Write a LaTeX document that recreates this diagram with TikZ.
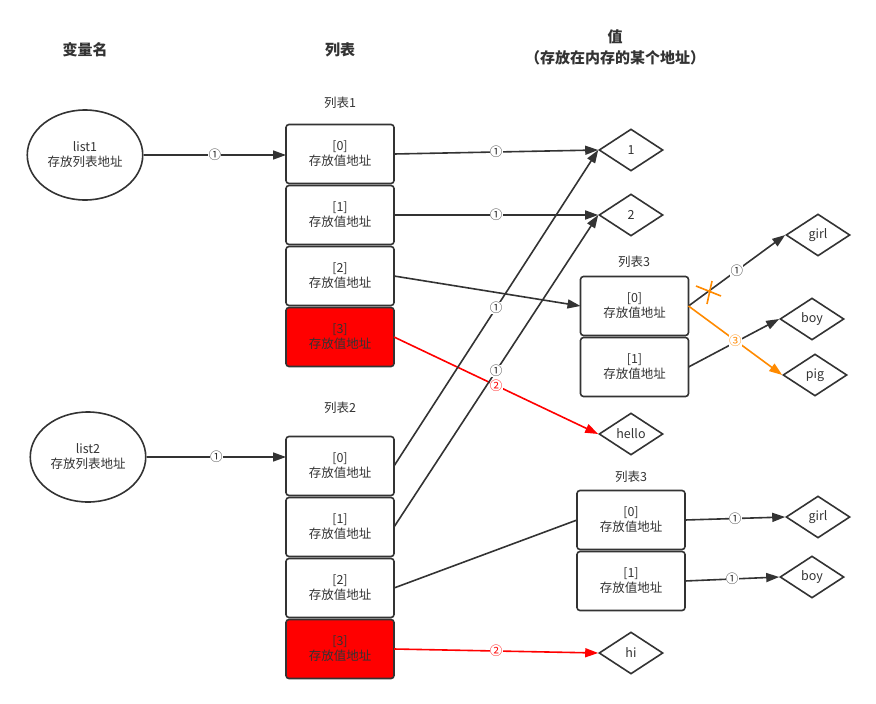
\documentclass[tikz,border=0pt]{standalone}
\usepackage{fontspec}
\setmainfont{Noto Sans CJK SC}
\usetikzlibrary{shapes.geometric,arrows.meta,positioning}
\definecolor{ink}{HTML}{333333}
\definecolor{orng}{HTML}{FF8A00}

\begin{document}
\begin{tikzpicture}[x=1pt,y=-1pt,
  every node/.style={text=ink, font=\fontsize{12.5}{15}\selectfont},
  cell/.style={draw=ink, line width=1.6pt, rounded corners=3pt, minimum width=108pt, minimum height=59pt, outer sep=0pt, align=center},
  var/.style={ellipse, draw=ink, line width=1.6pt, minimum width=108pt, minimum height=90pt, align=center},
  val/.style={diamond, draw=ink, line width=1.6pt, aspect=1.5, minimum width=64pt, minimum height=42pt, inner sep=1pt},
  head/.style={font=\fontsize{15}{21}\selectfont\bfseries, align=center},
  link/.style={draw=ink, line width=1.6pt, -{Triangle[length=13pt,width=9pt]}},
  line/.style={draw=ink, line width=1.6pt},
  num/.style={fill=white, inner sep=0.3pt, font=\fontsize{12.5}{12.5}\selectfont},
  node distance=2pt]
\useasboundingbox (0,0) rectangle (876,704);

% headers
\node[head] (hvar) at (85,50) {变量名};
\node[head] (hlist) at (340,50) {列表};
\node[head] (hval) at (615,47) {值\\（存放在内存的某个地址）};

% variables
\node[var] (var1) at (85,155) {list1\\存放列表地址};
\node[var] (var2) at (88,457) {list2\\存放列表地址};

% list 1
\node (t1) at (340,103) {列表1};
\node[cell] (l1a) at (340,154) {[0]\\存放值地址};
\node[cell, below=of l1a] (l1b) {[1]\\存放值地址};
\node[cell, below=of l1b] (l1c) {[2]\\存放值地址};
\node[cell, below=of l1c, fill=red] (l1d) {[3]\\存放值地址};

% list 2
\node (t2) at (340,408) {列表2};
\node[cell] (l2a) at (340,466) {[0]\\存放值地址};
\node[cell, below=of l2a] (l2b) {[1]\\存放值地址};
\node[cell, below=of l2b] (l2c) {[2]\\存放值地址};
\node[cell, below=of l2c, fill=red] (l2d) {[3]\\存放值地址};

% list 3 (top)
\node (t3) at (634,262) {列表3};
\node[cell] (l3a) at (634.5,306) {[0]\\存放值地址};
\node[cell, below=of l3a] (l3b) {[1]\\存放值地址};

% list 3 (bottom)
\node (t4) at (631,477) {列表3};
\node[cell] (m3a) at (631,520) {[0]\\存放值地址};
\node[cell, below=of m3a] (m3b) {[1]\\存放值地址};

% values
\node[val] (one) at (631,150) {1};
\node[val] (two) at (631,215) {2};
\node[val] (hello) at (631,434) {hello};
\node[val] (hi) at (631,653) {hi};
\node[val] (girl) at (818,235) {girl};
\node[val] (boy) at (812,319) {boy};
\node[val] (pig) at (815,375) {pig};
\node[val] (girlb) at (818,517) {girl};
\node[val] (boyb) at (812,577) {boy};

% links
\draw[link] (var1.east) -- node[num]{①} (var1.east -| l1a.west);
\draw[link] (var2.east) -- node[num]{①} (var2.east -| l2a.west);
\draw[link] (l1a.east) -- node[num]{①} (one.west);
\draw[link] (l1b.east) -- node[num]{①} (two.west);
\draw[link] (l1c.east) -- (l3a.west);
\draw[link, draw=red] (l1d.east) -- node[num, text=red]{②} (hello.west);
\draw[link] (l2a.east) -- node[num]{①} (one.west);
\draw[link] (l2b.east) -- node[num]{①} (two.west);
\draw[line] (l2c.east) -- (m3a.west);
\draw[link, draw=red] (l2d.east) -- node[num, text=red]{②} (hi.west);
\draw[link] (l3a.east) -- node[num]{①} (girl.west);
\draw[link] (l3b.east) -- (boy.west);
\draw[link, draw=orng] (l3a.east) -- node[num, text=orng]{③} (pig.west);
\draw[draw=orng, line width=1.6pt] (696,286) -- (721,296) (712,281) -- (707,304);
\draw[link] (m3a.east) -- node[num]{①} (girlb.west);
\draw[link] (m3b.east) -- node[num]{①} (boyb.west);
\end{tikzpicture}
\end{document}
